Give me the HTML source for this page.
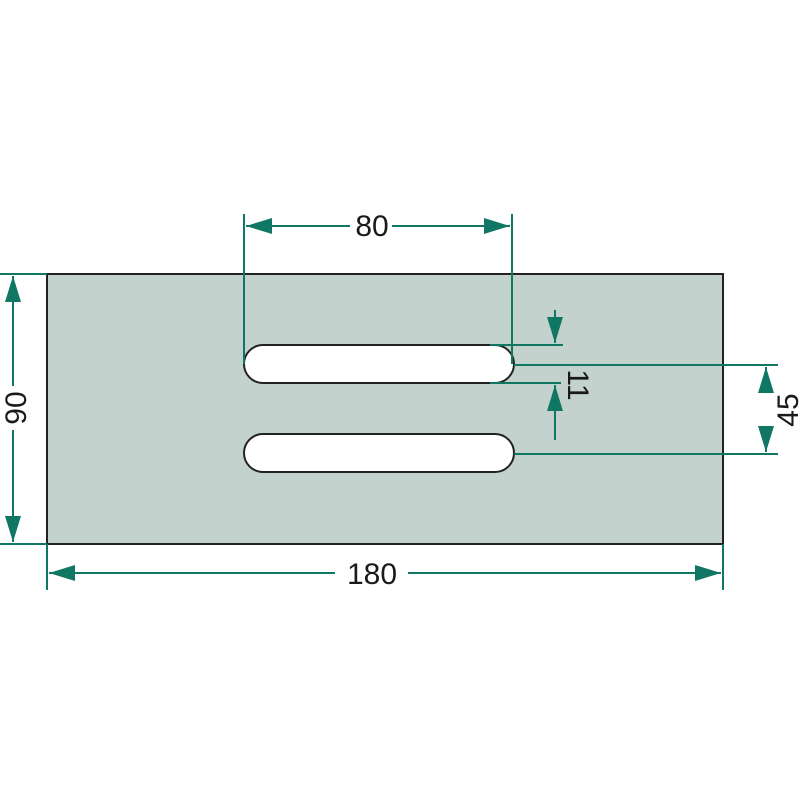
<!DOCTYPE html>
<html><head><style>html,body{margin:0;padding:0;background:#fff}</style></head>
<body>
<svg width="800" height="800" viewBox="0 0 800 800" xmlns="http://www.w3.org/2000/svg">
<defs>
<marker id="b" viewBox="0 0 10 10" refX="10" refY="5" markerWidth="26" markerHeight="16" markerUnits="userSpaceOnUse" orient="auto-start-reverse" preserveAspectRatio="none">
<path d="M0,0 L10,5 L0,10 z" fill="#0f7763"/>
</marker>
</defs>
<rect x="47" y="274" width="676" height="270" fill="#c4d2ce" stroke="#222" stroke-width="2"/>
<rect x="244" y="345" width="270" height="38" rx="19" fill="#fff" stroke="#222" stroke-width="2"/>
<rect x="244" y="434" width="270" height="38" rx="19" fill="#fff" stroke="#222" stroke-width="2"/>
<g stroke="#0f7763" stroke-width="2" fill="none">
<line x1="244" y1="214" x2="244" y2="364"/>
<line x1="512" y1="214" x2="512" y2="364"/>
<line x1="0" y1="274" x2="47" y2="274"/>
<line x1="0" y1="544" x2="47" y2="544"/>
<line x1="47" y1="544" x2="47" y2="590"/>
<line x1="723" y1="544" x2="723" y2="590"/>
<line x1="490" y1="345" x2="563" y2="345"/>
<line x1="490" y1="383" x2="561" y2="383"/>
<line x1="514" y1="365" x2="778" y2="365"/>
<line x1="514" y1="454" x2="778" y2="454"/>
<line x1="246" y1="226" x2="350" y2="226" marker-start="url(#b)"/>
<line x1="392" y1="226" x2="510" y2="226" marker-end="url(#b)"/>
<line x1="13" y1="276" x2="13" y2="386" marker-start="url(#b)"/>
<line x1="13" y1="430" x2="13" y2="542" marker-end="url(#b)"/>
<line x1="49" y1="573" x2="335" y2="573" marker-start="url(#b)"/>
<line x1="408" y1="573" x2="721" y2="573" marker-end="url(#b)"/>
<line x1="555" y1="310" x2="555" y2="343" marker-end="url(#b)"/>
<line x1="555" y1="440" x2="555" y2="385" marker-end="url(#b)"/>
<line x1="766" y1="393" x2="766" y2="367" marker-end="url(#b)"/>
<line x1="766" y1="427" x2="766" y2="452" marker-end="url(#b)"/>
</g>
<g font-family="Liberation Sans, sans-serif" font-size="30" fill="#1a1a1a" text-anchor="middle">
<text x="372" y="236">80</text>
<text x="372" y="584">180</text>
<text transform="translate(26,408) rotate(-90)">90</text>
<text transform="translate(798,410) rotate(-90)">45</text>
<text transform="translate(568,385) rotate(90)">11</text>
</g>
</svg>
</body></html>
